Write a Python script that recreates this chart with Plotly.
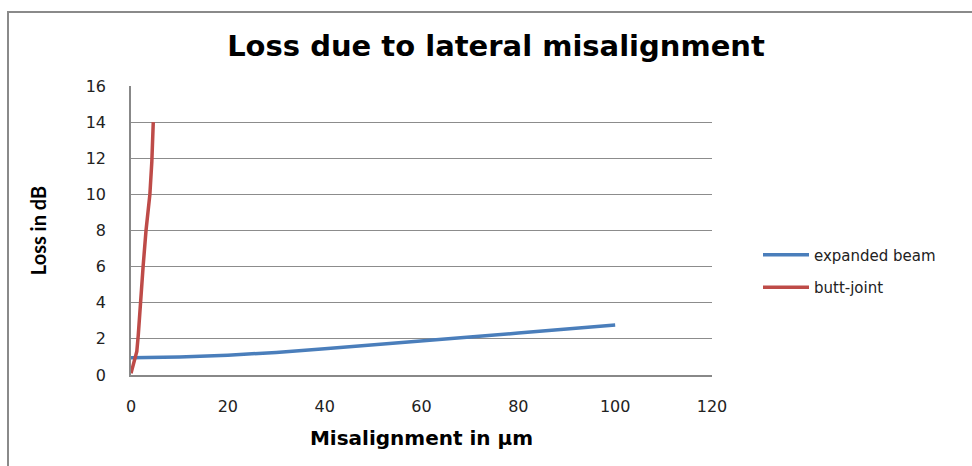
import plotly.graph_objects as go

# data
blue_x = [0, 10, 20, 30, 40, 50, 60, 70, 80, 90, 100]
blue_y = [0.95, 1.0, 1.1, 1.25, 1.45, 1.68, 1.9, 2.1, 2.32, 2.55, 2.77]
red_x = [0, 0.6, 1.2, 1.5, 1.9, 2.5, 3.1, 3.9, 4.3, 4.6]
red_y = [0.1, 0.7, 1.3, 2.2, 4.0, 6.0, 8.0, 10.0, 11.8, 14.0]
x_ticks = [0, 20, 40, 60, 80, 100, 120]
y_ticks = [0, 2, 4, 6, 8, 10, 12, 14, 16]

FONT = "DejaVu Sans"
L, R, T, B = 131, 260, 86, 91
W, H = 972, 466
pw, ph = W - L - R, H - T - B

def px(x):
    return (x - L) / pw

def py(y):
    return (H - B - y) / ph

fig = go.Figure()
fig.add_trace(go.Scatter(x=blue_x, y=blue_y, mode="lines", name="expanded beam",
                         line=dict(color="#4A7EBB", width=3.5), legendgroup="a"))
fig.add_trace(go.Scatter(x=red_x, y=red_y, mode="lines", name="butt-joint",
                         line=dict(color="#BE4B48", width=3.5), legendgroup="b"))

fig.update_layout(
    width=W, height=H,
    margin=dict(l=L, r=R, t=T, b=B),
    paper_bgcolor="white", plot_bgcolor="white",
    font=dict(family=FONT, color="#222222", size=15),
    title=dict(text="<b>Loss due to lateral misalignment</b>", x=(496) / W, xanchor="center",
               y=1 - 46 / H, yanchor="middle", font=dict(size=29, family=FONT, color="black")),
    showlegend=True,
    legend=dict(x=px(758), xanchor="left", y=py(271), yanchor="middle",
                font=dict(size=15, family=FONT, color="#222222"),
                tracegroupgap=10, itemwidth=46, bgcolor="rgba(0,0,0,0)"),
    xaxis=dict(range=[0, 120], tickvals=x_ticks, showgrid=False, zeroline=False,
               showline=True, linecolor="#888888", linewidth=1.5, ticks="",
               ticklabelstandoff=16, tickfont=dict(size=16),
               title=dict(text="<b>Misalignment in µm</b>", font=dict(size=20, family=FONT, color="black"),
                          standoff=16)),
    yaxis=dict(range=[0, 16], tickvals=y_ticks, showgrid=True, gridcolor="#8c8c8c", gridwidth=1,
               zeroline=False, showline=True, linecolor="#888888", linewidth=1.5, ticks="",
               ticklabelstandoff=20, tickfont=dict(size=16),
               title=dict(text="<b>Loss in dB</b>", font=dict(size=20, family="Lato", color="black"),
                          standoff=34)),
    shapes=[dict(type="path", xref="paper", yref="paper",
                 path=f"M {px(8)},{py(480)} L {px(8)},{py(12)} L {px(980)},{py(12)}",
                 line=dict(color="#8a8a8a", width=2))],
)

fig.write_html("out.html", config={"displayModeBar": False},
               post_script="document.body.style.margin='0';")
